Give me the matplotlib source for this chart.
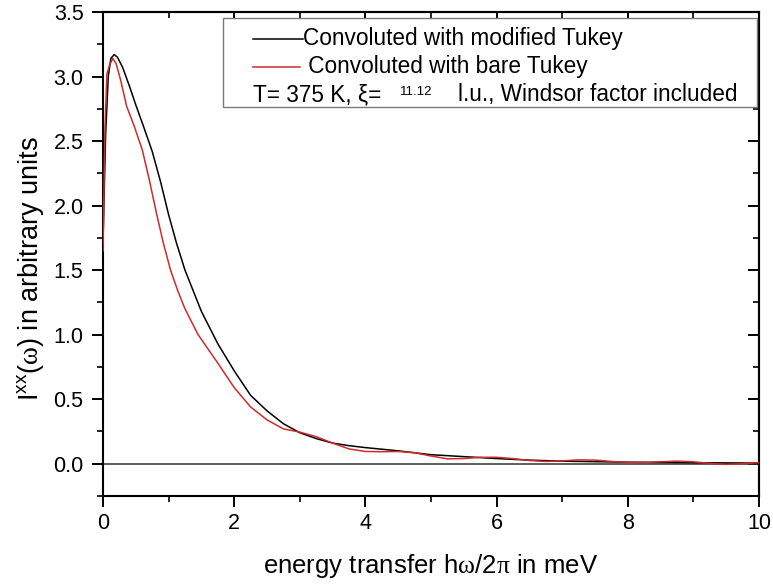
import matplotlib
matplotlib.use("Agg")
import matplotlib.pyplot as plt
from matplotlib.patches import Rectangle
from matplotlib.lines import Line2D
from matplotlib.ticker import MultipleLocator, FormatStrFormatter

plt.rcParams['font.family'] = ['Liberation Sans', 'DejaVu Sans']
plt.rcParams['mathtext.fontset'] = 'custom'
plt.rcParams['mathtext.rm'] = 'Liberation Sans'
plt.rcParams['mathtext.sf'] = 'Liberation Serif'
plt.rcParams['mathtext.it'] = 'Liberation Sans:italic'

# Data
x_mod = [0.0, 0.04, 0.08, 0.12, 0.17, 0.22, 0.3, 0.4, 0.5, 0.62, 0.75, 0.88, 1.0, 1.12,
         1.25, 1.5, 1.75, 2.0, 2.25, 2.5, 2.75, 3.0, 3.25, 3.5, 3.75, 4.0, 4.5, 5.0, 5.5,
         6.0, 6.5, 7.0, 7.5, 8.0, 9.0, 10.0]
y_mod = [1.72, 2.55, 3.0, 3.14, 3.17, 3.15, 3.07, 2.93, 2.78, 2.61, 2.42, 2.18, 1.93, 1.71,
         1.50, 1.18, 0.93, 0.72, 0.53, 0.41, 0.31, 0.24, 0.195, 0.16, 0.14, 0.125, 0.10, 0.07, 0.055,
         0.04, 0.028, 0.02, 0.016, 0.012, 0.008, 0.005]

x_bare = [0.0, 0.03, 0.06, 0.1, 0.15, 0.2, 0.27, 0.36, 0.48, 0.6, 0.71, 0.82, 0.92, 1.03,
          1.14, 1.25, 1.45, 1.75, 2.0, 2.25, 2.5, 2.75, 3.0, 3.25, 3.5, 3.75, 4.0, 4.25,
          4.5, 4.75, 5.0, 5.25, 5.5, 5.75, 6.0, 6.25, 6.5, 6.75, 7.0, 7.25, 7.5, 7.75, 8.0,
          8.25, 8.5, 8.75, 9.0, 9.25, 9.5, 9.75, 10.0]
y_bare = [1.65, 2.6, 3.02, 3.09, 3.14, 3.1, 2.97, 2.77, 2.61, 2.43, 2.19, 1.93, 1.71, 1.50,
          1.34, 1.20, 1.00, 0.78, 0.59, 0.44, 0.34, 0.27, 0.245, 0.21, 0.16, 0.115, 0.095, 0.093,
          0.095, 0.085, 0.06, 0.038, 0.04, 0.05, 0.05, 0.04, 0.025, 0.018, 0.022, 0.03, 0.028,
          0.018, 0.01, 0.01, 0.015, 0.02, 0.015, 0.003, -0.005, 0.0, 0.008]

label_mod = "Convoluted with modified Tukey"
label_bare = " Convoluted with bare Tukey"
info_left = "T= 375 K, \u03be="
info_xi = "11.12"
info_right = "l.u., Windsor factor included"

RED = '#d02a2a'

fig = plt.figure(figsize=(7.73, 5.86), dpi=100)
ax = fig.add_axes([103/773, 1-496/586, (759-103)/773, (496-12)/586])

ax.axhline(0, color='#333333', lw=1.1, zorder=1)
ax.plot(x_mod, y_mod, color='black', lw=1.1, zorder=3)
ax.plot(x_bare, y_bare, color=RED, lw=1.1, zorder=4)

ax.set_xlim(0, 10)
ax.set_ylim(-0.25, 3.5)
ax.xaxis.set_major_locator(MultipleLocator(2))
ax.xaxis.set_minor_locator(MultipleLocator(1))
ax.yaxis.set_major_locator(MultipleLocator(0.5))
ax.yaxis.set_minor_locator(MultipleLocator(0.25))
ax.tick_params(which='major', direction='out', length=8, width=1.4, labelsize=15.5, pad=4)
ax.tick_params(which='minor', direction='out', length=4, width=1.2)
ax.tick_params(axis='y', which='major', pad=6)
ax.yaxis.set_major_formatter(FormatStrFormatter('%.1f'))
for s in ax.spines.values():
    s.set_linewidth(1.5)

# inward ticks on top and right
top = ax.secondary_xaxis('top')
top.xaxis.set_major_locator(MultipleLocator(2))
top.xaxis.set_minor_locator(MultipleLocator(1))
top.tick_params(which='major', direction='in', length=8, width=1.4, labeltop=False)
top.tick_params(which='minor', direction='in', length=4, width=1.2)
top.spines['top'].set_linewidth(1.5)
right = ax.secondary_yaxis('right')
right.yaxis.set_major_locator(MultipleLocator(0.5))
right.yaxis.set_minor_locator(MultipleLocator(0.25))
right.tick_params(which='major', direction='in', length=8, width=1.4, labelright=False)
right.tick_params(which='minor', direction='in', length=4, width=1.2)
right.spines['right'].set_linewidth(1.5)

W, H = 759 - 103, 496 - 12
def fx(px):
    return (px - 103) / W
def fy(py):
    return (496 - py) / H

ax.set_xlabel("energy transfer h$\\mathsf{\\omega}$/2$\\mathsf{\\pi}$ in meV", fontsize=18.5)
ax.xaxis.set_label_coords(fx(431), fy(566))
ax.set_ylabel("I$^{\\mathrm{xx}}$($\\mathsf{\\omega}$) in arbitrary units", fontsize=19.5)
ax.yaxis.set_label_coords(fx(31), fy(268))
ax.xaxis.label.set_va('center')
ax.yaxis.label.set_va('center')

# legend box
ax.add_patch(Rectangle((fx(223), fy(107)), fx(757) - fx(223), fy(18) - fy(107),
                       transform=ax.transAxes, fill=True, facecolor='white',
                       edgecolor='#7a7a7a', lw=1.0, zorder=5))
ax.add_line(Line2D([fx(253), fx(303)], [fy(39), fy(39)], transform=ax.transAxes,
                   color='black', lw=1.1, zorder=6))
ax.text(fx(303), fy(39), label_mod, transform=ax.transAxes, fontsize=16.3,
        va='center', ha='left', zorder=6)
ax.add_line(Line2D([fx(253), fx(300)], [fy(67), fy(67)], transform=ax.transAxes,
                   color=RED, lw=1.1, zorder=6))
ax.text(fx(302), fy(67), label_bare, transform=ax.transAxes, fontsize=16.3,
        va='center', ha='left', zorder=6)
ax.text(fx(253), fy(95), info_left, transform=ax.transAxes, fontsize=16.3,
        va='center', ha='left', zorder=6)
ax.text(fx(400), fy(92), info_xi, transform=ax.transAxes, fontsize=9.5,
        va='center', ha='left', zorder=6)
ax.text(fx(458), fy(95), info_right, transform=ax.transAxes, fontsize=16.3,
        va='center', ha='left', zorder=6)

fig.savefig("out.png", dpi=100)
